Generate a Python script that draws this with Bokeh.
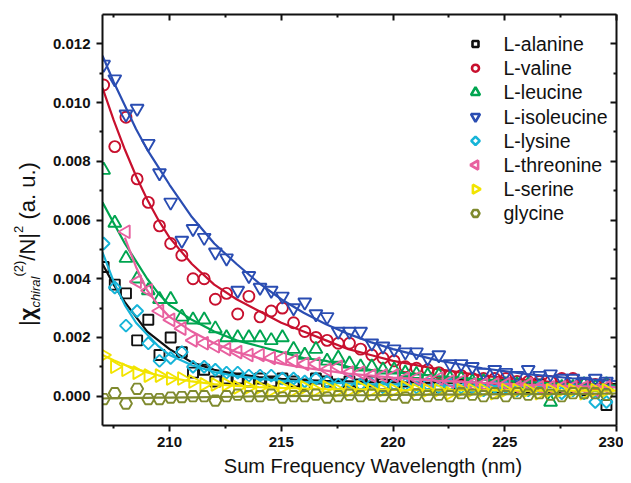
import math
from bokeh.plotting import figure
from bokeh.layouts import row, column
from bokeh.models import (LinearAxis, FixedTicker, PrintfTickFormatter, Range1d, Div,
                          CustomJSTickFormatter)
from bokeh.core.properties import value
from bokeh.embed import file_html
from bokeh.resources import INLINE

NAN = float("nan")

# ---------------- data ----------------
WAVELENGTH = [207.05, 207.55, 208.05, 208.55, 209.05, 209.55, 210.05, 210.55, 211.05, 211.55,
              212.05, 212.55, 213.05, 213.55, 214.05, 214.55, 215.05, 215.55, 216.05, 216.55,
              217.05, 217.55, 218.05, 218.55, 219.05, 219.55, 220.05, 220.55, 221.05, 221.55,
              222.05, 222.55, 223.05, 223.55, 224.05, 224.55, 225.05, 225.55, 226.05, 226.55,
              227.05, 227.55, 228.05, 228.55, 229.05, 229.55]

ALANINE = [0.0044, 0.0038, 0.0035, 0.0019, 0.0026, 0.0014, 0.0020, 0.0015, 0.0008, 0.0009,
           0.0005, 0.0006, 0.0006, 0.0005, 0.0006, 0.0005, 0.0006, 0.0005, 0.0004, 0.0006,
           0.0005, 0.0004, 0.0005, 0.0004, 0.0005, 0.0004, 0.0004, 0.0005, 0.0004, 0.0004,
           0.0003, 0.0004, 0.0004, 0.0003, 0.0004, 0.0003, 0.0004, 0.0003, 0.0003, 0.0004,
           0.0003, 0.0003, 0.0003, 0.0002, 0.0002, -0.0003]
VALINE = [0.0106, 0.0085, 0.0095, 0.0074, 0.0066, 0.0058, 0.0052, 0.0048, 0.0040, 0.0040,
          0.0033, 0.0035, 0.0028, 0.0034, 0.0027, 0.0029, 0.0030, 0.0025, 0.0022, 0.0020,
          0.0019, 0.0018, 0.0018, 0.0016, 0.0014, 0.0013, 0.0012, 0.0010, 0.00095, 0.0009,
          0.0008, 0.0007, 0.0007, 0.0006, 0.0006, 0.0006, 0.0006, 0.0005, 0.0005, 0.0005,
          0.0005, 0.0006, 0.0006, 0.0004, 0.0004, 0.0004]
LEUCINE = [0.0077, 0.0059, 0.0047, 0.0040, 0.0036, 0.0033, 0.0033, 0.0027, 0.0026, 0.0026,
           0.0023, 0.0020, 0.0020, 0.0020, 0.0020, 0.0019, 0.0020, 0.0016, 0.0014, 0.0016,
           0.0012, 0.0013, 0.0011, 0.0010, 0.0010, 0.0009, 0.0009, 0.0008, 0.00075, 0.0007,
           0.0007, 0.0006, 0.0006, 0.0005, 0.0005, 0.0004, 0.0004, 0.0004, 0.0004, 0.0003,
           -0.0002, 0.0003, 0.0003, 0.0004, 0.0003, 0.0004]
ISOLEUCINE = [0.0113, 0.0108, 0.0096, 0.0098, 0.0086, 0.0076, 0.0066, 0.0053, 0.0057, 0.0054,
              0.0049, 0.0047, 0.0036, 0.0041, 0.0037, 0.0036, 0.0034, 0.0030, 0.0032, 0.0028,
              0.0027, 0.0022, 0.0022, 0.0022, 0.0018, 0.0017, 0.0016, 0.0015, 0.0015, 0.0013,
              0.0014, 0.0011, 0.0011, 0.0010, 0.0008, 0.0009, 0.0008, 0.0007, 0.0009, 0.0007,
              0.00075, 0.0006, 0.0006, 0.0005, 0.0006, 0.0005]
LYSINE = [0.0052, 0.0037, 0.0024, 0.0029, 0.0018, 0.0012, 0.0013, 0.0015, 0.0010, 0.0010,
          0.0009, 0.0008, 0.0008, 0.0007, 0.0007, 0.0007, 0.0006, 0.0006, 0.0005, 0.0006,
          0.0005, 0.0004, 0.0005, 0.0004, 0.0004, 0.0003, 0.0004, 0.0004, 0.0003, 0.0004,
          0.0003, 0.0004, 0.0003, 0.0003, 0.0002, 0.0003, 0.0003, 0.0002, 0.0002, 0.0003,
          0.0002, 0.0001, 0.0002, 0.0001, -0.0002, -0.0002]
THREONINE = [NAN, NAN, 0.0056, 0.0039, 0.0036, 0.0029, 0.0026, 0.0023, 0.0019, 0.0018,
             0.0017, 0.0016, 0.0015, 0.0014, 0.0014, 0.0013, 0.0013, 0.0012, 0.0011, 0.0011,
             0.0009, 0.0010, 0.0008, 0.0008, 0.0007, 0.0007, 0.0007, 0.0006, 0.0006, 0.0005,
             0.0006, 0.0005, 0.0005, 0.0004, 0.0004, 0.0004, 0.0004, 0.0003, 0.0004, 0.0003,
             0.0003, 0.0003, 0.0003, 0.0003, 0.0002, 0.0003]
SERINE = [0.0014, 0.0010, 0.0009, 0.0008, 0.0007, 0.0007, 0.0006, 0.0006, 0.0005, 0.0004,
          0.0004, 0.0004, 0.0003, 0.0003, 0.0003, 0.0002, 0.0003, 0.0002, 0.0003, 0.0002,
          0.0003, 0.0002, 0.0002, 0.0003, 0.0002, 0.0002, 0.0002, 0.0003, 0.0002, 0.0002,
          0.0002, 0.0001, 0.0002, 0.0002, 0.0002, 0.0001, 0.0002, 0.0002, 0.0002, 0.0001,
          0.0002, 0.0002, 0.0002, 0.0001, 0.0002, 0.0002]
GLYCINE = [-0.0001, 0.0001, -0.00025, 0.00025, -0.0001, -0.0001, -0.00005, -0.00003, 0.0, 0.0,
           -0.00015, 0.0, 0.00005, 0.0, 0.0, 0.00005, -0.00005, 0.0, 0.0, 0.00005,
           -0.00005, 0.0, 0.00005, 0.0, 0.00005, 0.0, 0.00005, -0.00005, 0.00005, 0.0,
           0.00005, 0.0, 0.0001, 0.00005, 0.0, 0.0001, 0.0, 0.0001, 0.00005, 0.0001,
           0.00005, 0.0, 0.0001, 0.0001, 0.0001, 0.00005]

# fitted curves at these wavelengths
FIT_X = [207, 207.5, 208, 208.5, 209, 209.5, 210, 211, 212, 213, 214, 215, 216, 217, 218,
         219, 220, 222, 224, 226, 228, 230]
FIT_ALANINE = [0.0045, 0.0038, 0.0032, 0.0027, 0.0022, 0.0019, 0.0016, 0.00115, 0.0009, 0.00075,
               0.00065, 0.00059, 0.00055, 0.00052, 0.0005, 0.00048, 0.00047, 0.00045, 0.00044,
               0.00043, 0.00042, 0.00041]
FIT_VALINE = [0.0105, 0.0094, 0.0084, 0.0075, 0.0067, 0.0060, 0.0054, 0.0045, 0.0038, 0.0033,
              0.0029, 0.0025, 0.0022, 0.0019, 0.0016, 0.0014, 0.0012, 0.00092, 0.0007, 0.00055,
              0.00043, 0.00035]
FIT_LEUCINE = [0.0066, 0.0059, 0.0052, 0.0046, 0.0040, 0.0035, 0.0031, 0.0026, 0.0022, 0.0019,
               0.0017, 0.0015, 0.0013, 0.0012, 0.0010, 0.0009, 0.00082, 0.00068, 0.00057,
               0.00048, 0.00041, 0.00036]
FIT_ISOLEUCINE = [0.0116, 0.0107, 0.0099, 0.0091, 0.0084, 0.0078, 0.0072, 0.0061, 0.0052, 0.0045,
                  0.00385, 0.0033, 0.00284, 0.00245, 0.00212, 0.00184, 0.0016, 0.00122, 0.00095,
                  0.00075, 0.00061, 0.00051]
FIT_LYSINE = [0.0049, 0.0039, 0.0031, 0.0025, 0.0021, 0.0017, 0.0014, 0.00105, 0.00082, 0.00068,
              0.00059, 0.00053, 0.00049, 0.00046, 0.00043, 0.00041, 0.0004, 0.00037, 0.00035,
              0.00034, 0.00033, 0.00032]
FIT_THREONINE = [NAN, NAN, 0.0054, 0.0044, 0.0036, 0.0031, 0.0027, 0.0022, 0.0018, 0.0015,
                 0.0013, 0.0011, 0.00097, 0.00087, 0.00077, 0.0007, 0.00063, 0.00053, 0.00045,
                 0.00039, 0.00034, 0.0003]
FIT_SERINE = [0.0014, 0.00122, 0.00106, 0.00093, 0.00081, 0.00071, 0.00063, 0.0005, 0.00041,
              0.00035, 0.00031, 0.00028, 0.00026, 0.00024, 0.00023, 0.00022, 0.00021, 0.0002,
              0.0002, 0.00019, 0.00019, 0.00019]
FIT_GLYCINE = [-0.00008, -0.00007, -0.00007, -0.00006, -0.00006, -0.00005, -0.00005, -0.00004,
               -0.00003, -0.00002, -0.00001, 0.0, 0.00001, 0.00002, 0.00003, 0.00003, 0.00004,
               0.00005, 0.00006, 0.00007, 0.00008, 0.00009]

NAMES = ["L-alanine", "L-valine", "L-leucine", "L-isoleucine", "L-lysine",
         "L-threonine", "L-serine", "glycine"]

X_TICKS = [210, 215, 220, 225, 230]
X_MINOR = [207.5, 212.5, 217.5, 222.5, 227.5]
Y_TICKS = [0.000, 0.002, 0.004, 0.006, 0.008, 0.010, 0.012]
Y_MINOR = [0.001, 0.003, 0.005, 0.007, 0.009, 0.011]

# ---------------- layout (page pixels) ----------------
FONT = "Liberation Sans"
TOTAL_W, TOTAL_H = 623, 475
YT_W = 44                      # strip holding the y-axis title
XT_H = 23                      # strip holding the x-axis title
F_LEFT, F_RIGHT, F_TOP, F_BOTTOM = 102, 616, 14, 425
X0, X1, Y0, Y1 = 207.0, 230.0, -0.001, 0.013
P_W, P_H = TOTAL_W - YT_W, TOTAL_H - XT_H


def px_x(px):
    return X0 + (px - F_LEFT) / (F_RIGHT - F_LEFT) * (X1 - X0)


def px_y(py):
    return Y0 + (F_BOTTOM - py) / (F_BOTTOM - F_TOP) * (Y1 - Y0)


series = [
    (ALANINE, FIT_ALANINE, "#111111", "square", 10, 0.0),
    (VALINE, FIT_VALINE, "#c8102e", "circle", 11, 0.0),
    (LEUCINE, FIT_LEUCINE, "#00a550", "triangle", 13, 0.0),
    (ISOLEUCINE, FIT_ISOLEUCINE, "#2a4db2", "inverted_triangle", 13, 0.0),
    (LYSINE, FIT_LYSINE, "#16b4d8", "square", 8.5, math.pi / 4),
    (THREONINE, FIT_THREONINE, "#e8609f", "triangle", 13, math.pi / 2),
    (SERINE, FIT_SERINE, "#f2e400", "triangle", 13, -math.pi / 2),
    (GLYCINE, FIT_GLYCINE, "#7f8a2e", "hex", 12, 0.0),
]

p = figure(width=P_W, height=P_H, x_range=Range1d(X0, X1), y_range=Range1d(Y0, Y1),
           output_backend="svg", toolbar_location=None,
           min_border_left=F_LEFT - YT_W, min_border_right=P_W - (F_RIGHT - YT_W),
           min_border_top=F_TOP, min_border_bottom=P_H - F_BOTTOM)
p.xgrid.visible = False
p.ygrid.visible = False
p.outline_line_color = None

for vals, fit, color, marker, size, ang in series:
    p.scatter(WAVELENGTH, vals, marker=marker, size=size, angle=ang,
              line_color=color, fill_color=None, line_width=1.9)
    p.line(FIT_X, fit, line_color=color, line_width=2.2)

# legend (drawn by hand so the rotated markers keep their orientation)
for i, ((vals, fit, color, marker, size, ang), name) in enumerate(zip(series, NAMES)):
    row_y = px_y(43.5 + 24.2 * i)
    p.scatter([px_x(475)], [row_y], marker=marker, size=max(size - 4, 6), angle=ang,
              line_color=color, fill_color=None, line_width=2.6)
    p.text([px_x(503)], [row_y], text=[name], text_font=value(FONT),
           text_font_size="19.5px", text_baseline="middle", text_align="left",
           text_color="#111111")


def style_axis(ax, inward=False):
    ax.axis_line_width = 2
    ax.axis_line_color = "#111111"
    ax.major_tick_line_width = 2
    ax.minor_tick_line_width = 2
    ax.major_tick_line_color = "#111111"
    ax.minor_tick_line_color = "#111111"
    if inward:
        ax.major_tick_in, ax.major_tick_out = 6, 0
        ax.minor_tick_in, ax.minor_tick_out = 3, 0
    else:
        ax.major_tick_in, ax.major_tick_out = 0, 6
        ax.minor_tick_in, ax.minor_tick_out = 0, 3
    ax.major_label_text_font = FONT
    ax.major_label_text_font_style = "bold"
    ax.major_label_text_font_size = "15px"
    ax.major_label_text_color = "#111111"


xax = p.xaxis[0]
xax.ticker = FixedTicker(ticks=X_TICKS, minor_ticks=X_MINOR)
style_axis(xax)
xax.major_label_standoff = 5

yax = p.yaxis[0]
yax.ticker = FixedTicker(ticks=Y_TICKS, minor_ticks=Y_MINOR)
yax.formatter = PrintfTickFormatter(format="%.3f")
style_axis(yax)
yax.major_label_standoff = 6

empty = CustomJSTickFormatter(code="return ''")
top = LinearAxis(ticker=FixedTicker(ticks=X_TICKS, minor_ticks=X_MINOR), formatter=empty,
                 major_label_standoff=0)
style_axis(top, inward=True)
top.major_label_text_font_size = "0px"
p.add_layout(top, "above")
right = LinearAxis(ticker=FixedTicker(ticks=Y_TICKS, minor_ticks=Y_MINOR), formatter=empty,
                   major_label_standoff=0)
style_axis(right, inward=True)
right.major_label_text_font_size = "0px"
p.add_layout(right, "right")

# ---------------- axis titles (HTML text) ----------------
Y_TITLE_HTML = (
    f'<div style="position:relative;width:{YT_W}px;height:{TOTAL_H}px;">'
    '<div style="position:absolute;left:14px;top:326px;transform:rotate(-90deg);'
    'transform-origin:0 0;white-space:nowrap;font-family:\'Liberation Sans\';'
    'font-size:22px;line-height:28px;color:#111111;">'
    '|<b>\u03c7</b>'
    '<span style="position:relative;top:5px;font-size:13px;font-style:italic;">chiral</span>'
    '<span style="position:relative;top:-12px;font-size:13px;">(2)</span>'
    '/N|'
    '<span style="position:relative;top:-12px;font-size:13px;">2</span>'
    ' (a. u.)</div></div>'
)
X_TITLE_HTML = (
    f'<div style="position:relative;width:{P_W}px;height:{XT_H}px;">'
    f'<div style="position:absolute;left:0;top:3px;width:{2 * (373 - YT_W)}px;'
    'text-align:center;white-space:nowrap;font-family:\'Liberation Sans\';'
    f'font-size:20px;line-height:{XT_H}px;color:#111111;">'
    'Sum Frequency Wavelength (nm)</div></div>'
)

ydiv = Div(text=Y_TITLE_HTML, width=YT_W, height=TOTAL_H, margin=0)
xdiv = Div(text=X_TITLE_HTML, width=P_W, height=XT_H, margin=0)

layout = row(ydiv, column(p, xdiv, spacing=0), spacing=0)

open("out.html", "w").write(file_html(layout, INLINE))
